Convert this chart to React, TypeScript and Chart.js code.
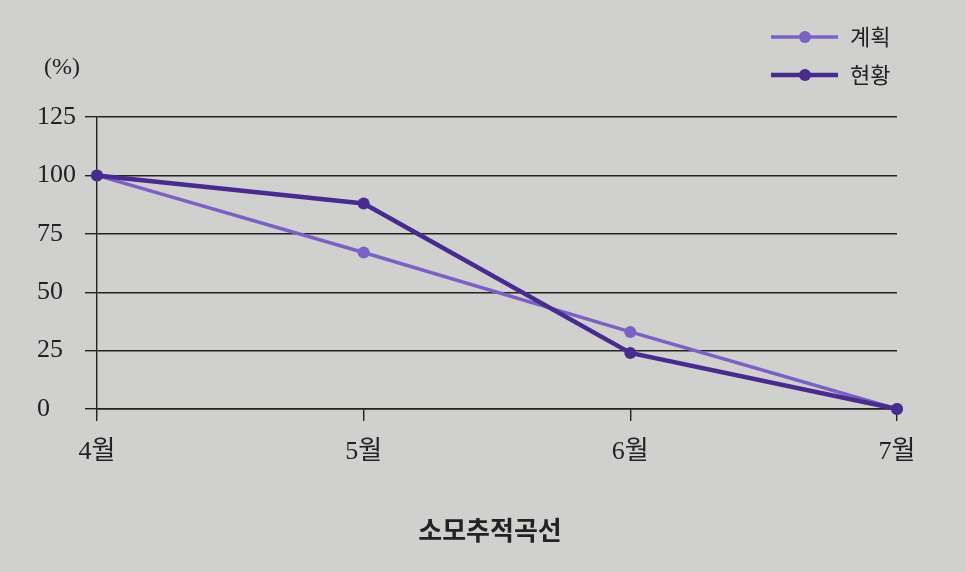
import React, { useEffect, useRef } from "react";
import { Chart, registerables } from "chart.js";

Chart.register(...registerables);

const months = ["4월", "5월", "6월", "7월"];
const planValues = [100, 67, 33, 0];
const actualValues = [100, 88, 24, 0];
const seriesLabels = ["계획", "현황"];
const yTicks = [0, 25, 50, 75, 100, 125];
const unitLabel = "(%)";
const chartTitle = "소모추적곡선";

const PLAN_COLOR = "#7b61c4";
const ACTUAL_COLOR = "#492b8e";
const INK = "#222222";
const BG = "#d0d1cf";
const SERIF = "'Liberation Serif', 'Noto Sans CJK KR', serif";
const SANS = "'Noto Sans CJK KR', 'Noto Sans', sans-serif";

const overlayPlugin = {
  id: "overlay",
  afterDraw(chart: any) {
    const ctx = chart.ctx;
    ctx.save();
    ctx.fillStyle = INK;
    ctx.textBaseline = "middle";
    ctx.textAlign = "left";
    ctx.font = `24px ${SERIF}`;
    ctx.fillText(unitLabel, 44, 68);

    ctx.textAlign = "center";
    ctx.font = `bold 26px ${SANS}`;
    ctx.fillText(chartTitle, 490, 530);

    chart.data.datasets.forEach((ds: any, i: number) => {
      const y = 37 + i * 38;
      ctx.strokeStyle = ds.borderColor;
      ctx.lineWidth = ds.borderWidth;
      ctx.beginPath();
      ctx.moveTo(771, y);
      ctx.lineTo(838, y);
      ctx.stroke();
      ctx.fillStyle = ds.pointBackgroundColor;
      ctx.beginPath();
      ctx.arc(805, y, 6, 0, Math.PI * 2);
      ctx.fill();
      ctx.fillStyle = INK;
      ctx.textAlign = "left";
      ctx.font = `22px ${SANS}`;
      ctx.fillText(ds.label, 850, y);
    });
    ctx.restore();
  },
};

export default function App() {
  const ref = useRef<HTMLCanvasElement | null>(null);

  useEffect(() => {
    if (!ref.current) return;
    const chart = new Chart(ref.current, {
      type: "line",
      data: {
        labels: months,
        datasets: [
          {
            label: seriesLabels[0],
            data: planValues,
            borderColor: PLAN_COLOR,
            backgroundColor: PLAN_COLOR,
            pointBackgroundColor: PLAN_COLOR,
            pointBorderColor: PLAN_COLOR,
            borderWidth: 3.5,
            pointRadius: 6,
            pointBorderWidth: 0,
            tension: 0,
            clip: false as any,
            order: 2,
          },
          {
            label: seriesLabels[1],
            data: actualValues,
            borderColor: ACTUAL_COLOR,
            backgroundColor: ACTUAL_COLOR,
            pointBackgroundColor: ACTUAL_COLOR,
            pointBorderColor: ACTUAL_COLOR,
            borderWidth: 4.5,
            pointRadius: 6,
            pointBorderWidth: 0,
            tension: 0,
            clip: false as any,
            order: 1,
          },
        ],
      },
      options: {
        responsive: false,
        animation: false,
        devicePixelRatio: 1,
        layout: { padding: { left: 37, right: 69, top: 117, bottom: 103 } },
        plugins: {
          legend: { display: false },
          tooltip: { enabled: false },
          title: { display: false },
        },
        scales: {
          x: {
            type: "category",
            offset: false,
            grid: {
              drawOnChartArea: false,
              drawTicks: true,
              tickLength: 12,
              color: INK,
              lineWidth: 1.4,
            },
            border: { display: true, color: INK, width: 1.4 },
            ticks: {
              padding: 16,
              color: INK,
              maxRotation: 0,
              font: { family: SERIF, size: 26 },
            },
            afterFit: (s: any) => {
              s.height = 60;
            },
          },
          y: {
            min: 0,
            max: 125,
            afterBuildTicks: (s: any) => {
              s.ticks = yTicks.map((v) => ({ value: v }));
            },
            grid: {
              drawTicks: true,
              tickLength: 12,
              color: INK,
              lineWidth: 1.4,
            },
            border: { display: true, color: INK, width: 1.4 },
            ticks: {
              crossAlign: "far",
              color: INK,
              font: { family: SERIF, size: 26 },
            },
            afterFit: (s: any) => {
              s.width = 60;
            },
          },
        },
      },
      plugins: [overlayPlugin],
    });
    return () => chart.destroy();
  }, []);

  return (
    <div
      style={{
        position: "fixed",
        left: 0,
        top: 0,
        width: 966,
        height: 572,
        background: BG,
      }}
    >
      <canvas ref={ref} width={966} height={572} style={{ width: 966, height: 572, display: "block" }} />
    </div>
  );
}
